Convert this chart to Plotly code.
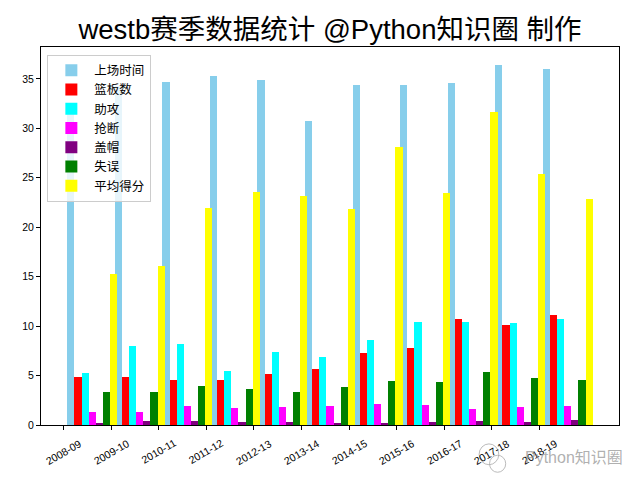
import plotly.graph_objects as go

# Westbrook season averages
seasons = ["2008-09", "2009-10", "2010-11", "2011-12", "2012-13", "2013-14",
           "2014-15", "2015-16", "2016-17", "2017-18", "2018-19"]

minutes = [32.5, 34.3, 34.7, 35.3, 34.9, 30.7, 34.4, 34.4, 34.6, 36.4, 36.0]
rebounds = [4.9, 4.9, 4.6, 4.6, 5.2, 5.7, 7.3, 7.8, 10.7, 10.1, 11.1]
assists = [5.3, 8.0, 8.2, 5.5, 7.4, 6.9, 8.6, 10.4, 10.4, 10.3, 10.7]
steals = [1.3, 1.3, 1.9, 1.7, 1.8, 1.9, 2.1, 2.0, 1.6, 1.8, 1.9]
blocks = [0.2, 0.4, 0.4, 0.3, 0.3, 0.2, 0.2, 0.3, 0.4, 0.3, 0.5]
turnovers = [3.3, 3.3, 3.9, 3.6, 3.3, 3.8, 4.4, 4.3, 5.4, 4.8, 4.5]
points = [15.3, 16.1, 21.9, 23.6, 23.2, 21.8, 28.1, 23.5, 31.6, 25.4, 22.9]

series = [
    ("上场时间", minutes, "#87CEEB"),
    ("篮板数", rebounds, "#FF0000"),
    ("助攻", assists, "#00FFFF"),
    ("抢断", steals, "#FF00FF"),
    ("盖帽", blocks, "#800080"),
    ("失误", turnovers, "#008000"),
    ("平均得分", points, "#FFFF00"),
]

FONT = "Liberation Sans, Arial, Noto Sans CJK SC, sans-serif"
width = 0.15

fig = go.Figure()

# each series shifted one bar width further right, like the matplotlib original
for k, (name, values, color) in enumerate(series):
    fig.add_trace(
        go.Bar(
            x=[i + (k + 1) * width for i in range(len(seasons))],
            y=values,
            width=width,
            name=name,
            marker=dict(color=color, line=dict(width=0)),
        )
    )

# rotated tick labels centred on the ticks (matplotlib style)
for i, label in enumerate(seasons):
    fig.add_annotation(
        x=i, y=0, xref="x", yref="paper",
        text=label, textangle=-30, showarrow=False,
        xanchor="center", yanchor="top", yshift=-9,
        font=dict(size=10.5, color="black", family=FONT),
    )

# watermark: text plus a rough chat-bubble icon
fig.add_shape(type="circle", xref="paper", yref="paper",
              x0=0.758, x1=0.792, y0=-0.105, y1=-0.05,
              line=dict(color="rgba(170,170,170,0.8)", width=1))
fig.add_shape(type="circle", xref="paper", yref="paper",
              x0=0.776, x1=0.804, y0=-0.125, y1=-0.08,
              line=dict(color="rgba(170,170,170,0.8)", width=1))
fig.add_annotation(
    x=1.0, y=-0.085, xref="paper", yref="paper",
    text="Python知识圈", showarrow=False, xshift=6,
    xanchor="right", yanchor="middle",
    font=dict(size=16, color="rgba(150,150,150,0.75)", family=FONT),
)

top = max(max(v) for _, v, _ in series) * 1.05
left = -width / 2 + width
right = len(seasons) - 1 + len(series) * width + width / 2
pad = (right - left) * 0.05

# page body adds an 8px margin top/left, so the figure is 8px smaller each way
fig.update_layout(
    width=632,
    height=472,
    barmode="overlay",
    bargap=0,
    plot_bgcolor="white",
    paper_bgcolor="white",
    font=dict(family=FONT, color="black"),
    margin=dict(l=33, r=21, t=39, b=55),
    title=dict(
        text="westb赛季数据统计 @Python知识圈 制作",
        x=0.5, xref="paper", xanchor="center",
        y=1 - 21 / 472, yref="container", yanchor="middle",
        font=dict(size=27.5, color="black", family=FONT),
    ),
    legend=dict(
        x=0.011, y=0.98, xanchor="left", yanchor="top",
        bgcolor="rgba(255,255,255,0.8)",
        bordercolor="#cccccc", borderwidth=1,
        font=dict(size=12.5, family=FONT),
        itemwidth=36,
    ),
    xaxis=dict(
        range=[left - pad, right + pad],
        tickvals=list(range(len(seasons))),
        showticklabels=False,
        ticks="outside", ticklen=4, tickcolor="black",
        showgrid=False, zeroline=False,
        showline=True, linecolor="black", linewidth=1, mirror=True,
    ),
    yaxis=dict(
        range=[0, top],
        dtick=5,
        ticks="outside", ticklen=4, tickcolor="black",
        tickfont=dict(size=10.5),
        showgrid=False, zeroline=False,
        showline=True, linecolor="black", linewidth=1, mirror=True,
    ),
)

fig.write_html("out.html")
